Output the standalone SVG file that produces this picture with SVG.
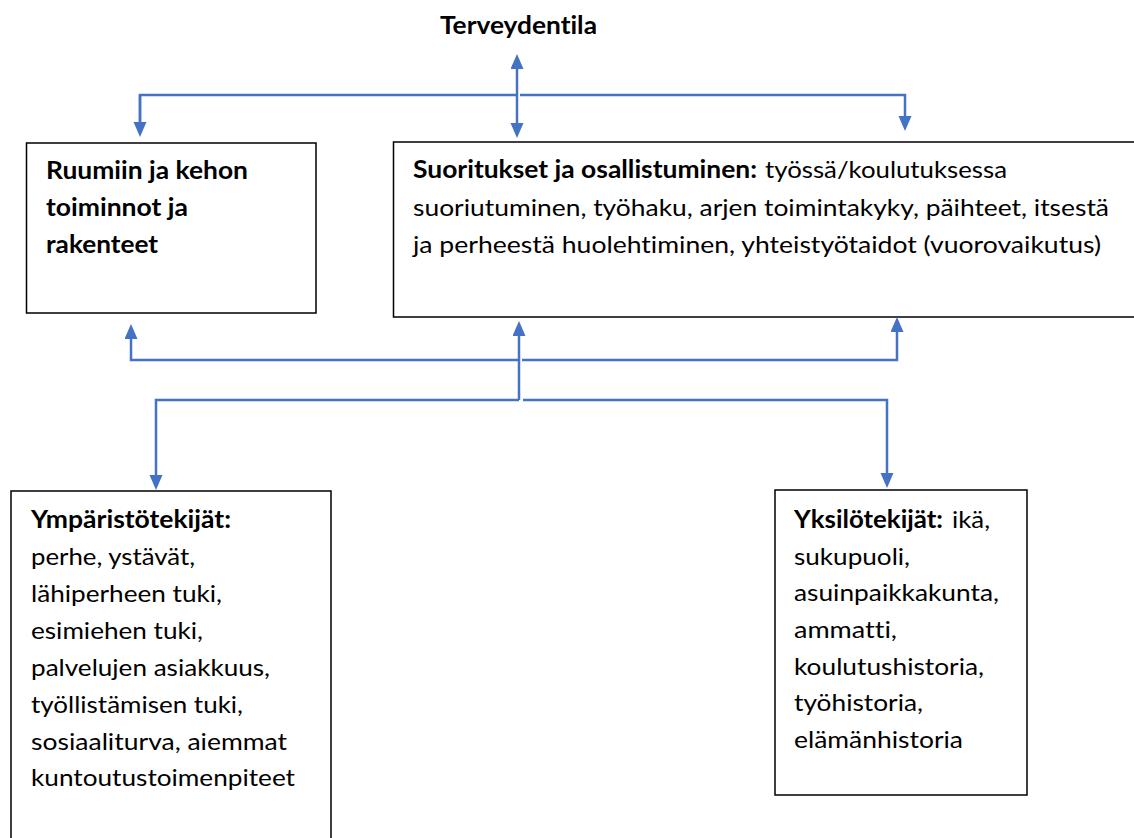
<svg xmlns="http://www.w3.org/2000/svg" width="1134" height="838" viewBox="0 0 1134 838">
<style>
  .box { fill: #ffffff; stroke: #000000; stroke-width: 1.5; }
  .t { font-family: Lato, "Open Sans", "Liberation Sans", sans-serif; font-size: 24px; fill: #000000; font-variant-ligatures: none; font-feature-settings: "liga" 0, "clig" 0, "dlig" 0; }
  .b { font-weight: bold; }
  .conn { fill: none; stroke: #4472C4; stroke-width: 2.5; }
</style>
<defs>
  <marker id="arr" markerUnits="userSpaceOnUse" markerWidth="16" markerHeight="14" refX="0" refY="6.5" orient="auto-start-reverse">
    <path d="M0,0 L15,6.5 L0,13 z" fill="#4472C4"/>
  </marker>
</defs>
<rect width="1134" height="838" fill="#ffffff"/>

<g id="terveydentila">
  <text class="t b" x="440" y="34" font-size="22" textLength="157" lengthAdjust="spacingAndGlyphs">Terveydentila</text>
</g>

<g id="ruumiin">
  <rect class="box" x="26.5" y="143" width="289.5" height="170"/>
  <text class="t b" x="46" y="179" textLength="202" lengthAdjust="spacingAndGlyphs">Ruumiin ja kehon</text>
  <text class="t b" x="46" y="216" textLength="142" lengthAdjust="spacingAndGlyphs">toiminnot ja</text>
  <text class="t b" x="46" y="253" textLength="112" lengthAdjust="spacingAndGlyphs">rakenteet</text>
</g>

<g id="suoritukset">
  <rect class="box" x="393.5" y="142" width="760" height="175"/>
  <text class="t b" x="413" y="178" textLength="344" lengthAdjust="spacingAndGlyphs">Suoritukset ja osallistuminen:</text>
  <text class="t" x="765" y="178" textLength="242" lengthAdjust="spacingAndGlyphs">työssä/koulutuksessa</text>
  <text class="t" x="413" y="216" textLength="696" lengthAdjust="spacingAndGlyphs">suoriutuminen, työhaku, arjen toimintakyky, päihteet, itsestä</text>
  <text class="t" x="413" y="253" textLength="688" lengthAdjust="spacingAndGlyphs">ja perheestä huolehtiminen, yhteistyötaidot (vuorovaikutus)</text>
</g>

<g id="ymparistotekijat">
  <rect class="box" x="11" y="491" width="320" height="360"/>
  <text class="t b" x="31" y="528" textLength="200" lengthAdjust="spacingAndGlyphs">Ympäristötekijät:</text>
  <text class="t" x="31" y="565" textLength="164" lengthAdjust="spacingAndGlyphs">perhe, ystävät,</text>
  <text class="t" x="31" y="602" textLength="191" lengthAdjust="spacingAndGlyphs">lähiperheen tuki,</text>
  <text class="t" x="31" y="639" textLength="172" lengthAdjust="spacingAndGlyphs">esimiehen tuki,</text>
  <text class="t" x="31" y="676" textLength="239" lengthAdjust="spacingAndGlyphs">palvelujen asiakkuus,</text>
  <text class="t" x="31" y="713" textLength="212" lengthAdjust="spacingAndGlyphs">työllistämisen tuki,</text>
  <text class="t" x="31" y="750" textLength="256" lengthAdjust="spacingAndGlyphs">sosiaaliturva, aiemmat</text>
  <text class="t" x="31" y="786" textLength="264" lengthAdjust="spacingAndGlyphs">kuntoutustoimenpiteet</text>
</g>

<g id="yksilotekijat">
  <rect class="box" x="775" y="490" width="252" height="305"/>
  <text class="t b" x="794" y="528" textLength="149" lengthAdjust="spacingAndGlyphs">Yksilötekijät:</text>
  <text class="t" x="952" y="528" textLength="38" lengthAdjust="spacingAndGlyphs">ikä,</text>
  <text class="t" x="794" y="565" textLength="116" lengthAdjust="spacingAndGlyphs">sukupuoli,</text>
  <text class="t" x="794" y="601" textLength="205" lengthAdjust="spacingAndGlyphs">asuinpaikkakunta,</text>
  <text class="t" x="794" y="638" textLength="103" lengthAdjust="spacingAndGlyphs">ammatti,</text>
  <text class="t" x="794" y="675" textLength="190" lengthAdjust="spacingAndGlyphs">koulutushistoria,</text>
  <text class="t" x="794" y="711" textLength="129" lengthAdjust="spacingAndGlyphs">työhistoria,</text>
  <text class="t" x="794" y="748" textLength="169" lengthAdjust="spacingAndGlyphs">elämänhistoria</text>
</g>

<g id="connectors">
  <path class="conn" d="M517,69 L517,123" marker-start="url(#arr)" marker-end="url(#arr)"/>
  <path class="conn" d="M140,122 L140,95 L516,95"/>
  <path class="conn" d="M520,95 L905,95 L905,116" marker-end="url(#arr)"/>
  <path class="conn" d="M140,95 L140,122" marker-end="url(#arr)"/>
  <path class="conn" d="M131,339 L131,360 L518,360" marker-start="url(#arr)"/>
  <path class="conn" d="M522,360 L897,360 L897,332" marker-end="url(#arr)"/>
  <path class="conn" d="M519,400 L519,336" marker-end="url(#arr)"/>
  <path class="conn" d="M156,475 L156,400 L519,400" marker-start="url(#arr)"/>
  <path class="conn" d="M523,400 L887,400 L887,473" marker-end="url(#arr)"/>
</g>
</svg>
